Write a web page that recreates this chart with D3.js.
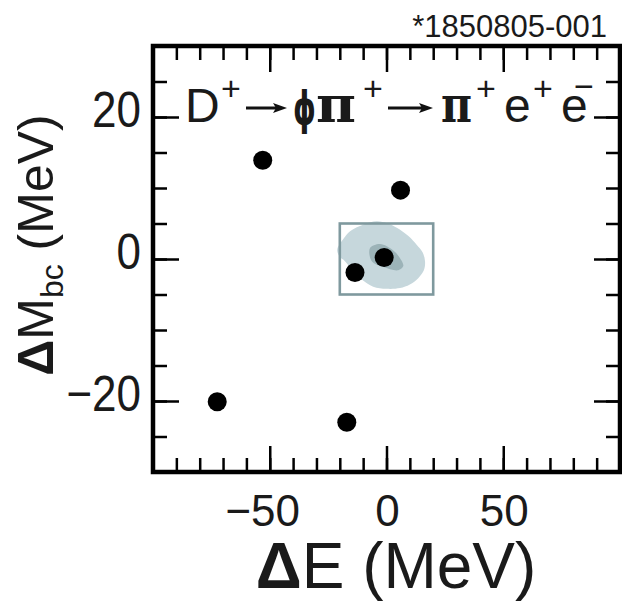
<!DOCTYPE html>
<html><head><meta charset="utf-8">
<script src="https://cdn.jsdelivr.net/npm/d3@7"></script>
<style>
body{margin:0;background:#fff}
svg{display:block}
text{font-family:"Liberation Sans",Arial,sans-serif;fill:#1a1a1a}
</style></head>
<body>
<svg id="c" width="622" height="603"></svg>
<script>
// ---- data ----
const xDomain = [-100, 100];
const yDomain = [-30, 30];
const xMinorTicks = [-90,-80,-70,-60,-50,-40,-30,-20,-10,0,10,20,30,40,50,60,70,80,90];
const xMajorTicks = [-50, 0, 50];
const yMinorTicks = [-25,-20,-15,-10,-5,0,5,10,15,20,25];
const yMajorTicks = [-20, 0, 20];
const eventsDE  = [-53, 6, -1, -13.5, -72.5, -17];
const eventsDM  = [13.9, 9.7, 0.2, -1.9, -20.1, -23];
const signalBox = [[-20, 20], [-5, 5]];
const mcOuterDE = [-21.1,-18.5,-15.6,-9.5,-4.2,0.5,4.4,9.5,12.9,15.5,16.5,16.0,13.6,10.0,5.8,0.0,-5.7,-10.6,-15.0,-17.8,-20.0];
const mcOuterDM = [1.3,2.8,3.9,4.9,5.3,5.0,4.4,3.2,2.0,0.9,-0.3,-1.6,-2.7,-3.6,-4.1,-4.2,-3.9,-2.9,-1.4,-0.3,0.3];
const mcInnerDE = [-7.1,-2.8,2.9,6.0,7.2,5.0,-1.4,-6.3];
const mcInnerDM = [1.5,2.1,1.2,0.0,-1.0,-1.6,-1.1,-0.3];

const svg = d3.select("#c");
const x = d3.scaleLinear(xDomain, [153, 620]);
const y = d3.scaleLinear(yDomain, [472, 46]);

// MC shading
const blob = d3.line().x(d => x(d[0])).y(d => y(d[1])).curve(d3.curveCatmullRomClosed);
svg.append("path").attr("d", blob(mcOuterDE.map((v,i)=>[v, mcOuterDM[i]]))).attr("fill", "#c6d7dc");
svg.append("path").attr("d", blob(mcInnerDE.map((v,i)=>[v, mcInnerDM[i]]))).attr("fill", "#9cb3b8");

// signal box
svg.append("rect")
  .attr("x", x(signalBox[0][0])).attr("y", y(signalBox[1][1]))
  .attr("width", x(signalBox[0][1]) - x(signalBox[0][0]))
  .attr("height", y(signalBox[1][0]) - y(signalBox[1][1]))
  .attr("fill", "none").attr("stroke", "#7f999e").attr("stroke-width", 2.6);

// events
svg.selectAll("circle.ev").data(eventsDE).join("circle")
  .attr("class","ev")
  .attr("cx", d => x(d)).attr("cy", (d,i) => y(eventsDM[i])).attr("r", 9.5).attr("fill", "#000");

// axes ticks (inward)
function ticks(axisFn, tv, size, tr){
  const g = svg.append("g").attr("transform", tr)
    .call(axisFn.tickValues(tv).tickSize(-size).tickFormat(""));
  g.select(".domain").remove();
  g.selectAll(".tick line").attr("stroke","#000").attr("stroke-width",2.5);
}
ticks(d3.axisBottom(x), xMinorTicks, 14, `translate(0,${y.range()[0]})`);
ticks(d3.axisBottom(x), xMajorTicks, 26, `translate(0,${y.range()[0]})`);
ticks(d3.axisTop(x), xMinorTicks, 14, `translate(0,${y.range()[1]})`);
ticks(d3.axisTop(x), xMajorTicks, 26, `translate(0,${y.range()[1]})`);
ticks(d3.axisLeft(y), yMinorTicks, 14, `translate(${x.range()[0]},0)`);
ticks(d3.axisLeft(y), yMajorTicks, 26, `translate(${x.range()[0]},0)`);
ticks(d3.axisRight(y), yMinorTicks, 14, `translate(${x.range()[1]},0)`);
ticks(d3.axisRight(y), yMajorTicks, 26, `translate(${x.range()[1]},0)`);

// frame
svg.append("rect").attr("x", x.range()[0]).attr("y", y.range()[1])
  .attr("width", x.range()[1]-x.range()[0]).attr("height", y.range()[0]-y.range()[1])
  .attr("fill","none").attr("stroke","#000").attr("stroke-width",4.5);

const fmt = d3.format("d");
// x tick labels
svg.selectAll("text.xl").data(xMajorTicks).join("text").attr("class","xl")
  .attr("x", d => x(d) + (d < 0 ? -7 : 1)).attr("y", 526)
  .attr("text-anchor","middle").attr("font-size",44).text(fmt);
// y tick labels
svg.selectAll("text.yl").data(yMajorTicks).join("text").attr("class","yl")
  .attr("transform", d => `translate(141,${y(d)+10}) scale(1,1.13)`)
  .attr("text-anchor","end").attr("font-size",44).text(fmt);

// axis titles
const xt = svg.append("text").attr("x", 396).attr("y", 588).attr("text-anchor","middle").attr("font-size",64);
xt.append("tspan").attr("font-weight","bold").text("Δ");
xt.append("tspan").text("E (MeV)");

const yt = svg.append("text").attr("transform","translate(53,245) rotate(-90)")
  .attr("text-anchor","middle").attr("font-size",50);
yt.append("tspan").attr("font-weight","bold").text("Δ");
yt.append("tspan").text("M");
yt.append("tspan").attr("font-size",32).attr("dy",10).text("bc");
yt.append("tspan").attr("dy",-10).text(" (MeV)");

// run label
svg.append("text").attr("x",607).attr("y",37).attr("text-anchor","end").attr("font-size",31).text("*1850805-001");

// decay formula
const base = 122;
const pieces = [
  {t:"D", x:185, y:base, fs:48},
  {t:"+", x:221, y:base-22, fs:34},
  {t:"ϕ", x:293, y:base+2, fs:46, font:"'DejaVu Sans',sans-serif", bold:true, len:23},
  {t:"π", x:316, y:base, fs:50, font:"'DejaVu Serif','Liberation Serif',serif", bold:true, len:40},
  {t:"+", x:363, y:base-22, fs:34},
  {t:"π", x:441, y:base, fs:50, font:"'DejaVu Serif','Liberation Serif',serif", bold:true, len:31},
  {t:"+", x:476, y:base-22, fs:34},
  {t:"e", x:504, y:base, fs:48},
  {t:"+", x:533, y:base-22, fs:34},
  {t:"e", x:561, y:base, fs:48},
  {t:"−", x:574, y:base-24, fs:34},
];
pieces.forEach(p => {
  const t = svg.append("text").attr("x",p.x).attr("y",p.y).attr("font-size",p.fs).text(p.t);
  if (p.font) t.style("font-family",p.font);
  if (p.bold) t.attr("font-weight","bold");
  if (p.len) t.attr("textLength",p.len).attr("lengthAdjust","spacingAndGlyphs");
});
function arrow(x0, x1, yy){
  svg.append("line").attr("x1",x0).attr("x2",x1-10).attr("y1",yy).attr("y2",yy)
    .attr("stroke","#111").attr("stroke-width",3);
  svg.append("path").attr("d",`M${x1},${yy} L${x1-14},${yy-5} L${x1-11},${yy} L${x1-14},${yy+5} Z`).attr("fill","#111");
}
arrow(246, 287, 108);
arrow(388, 433, 108);
</script>
</body></html>
